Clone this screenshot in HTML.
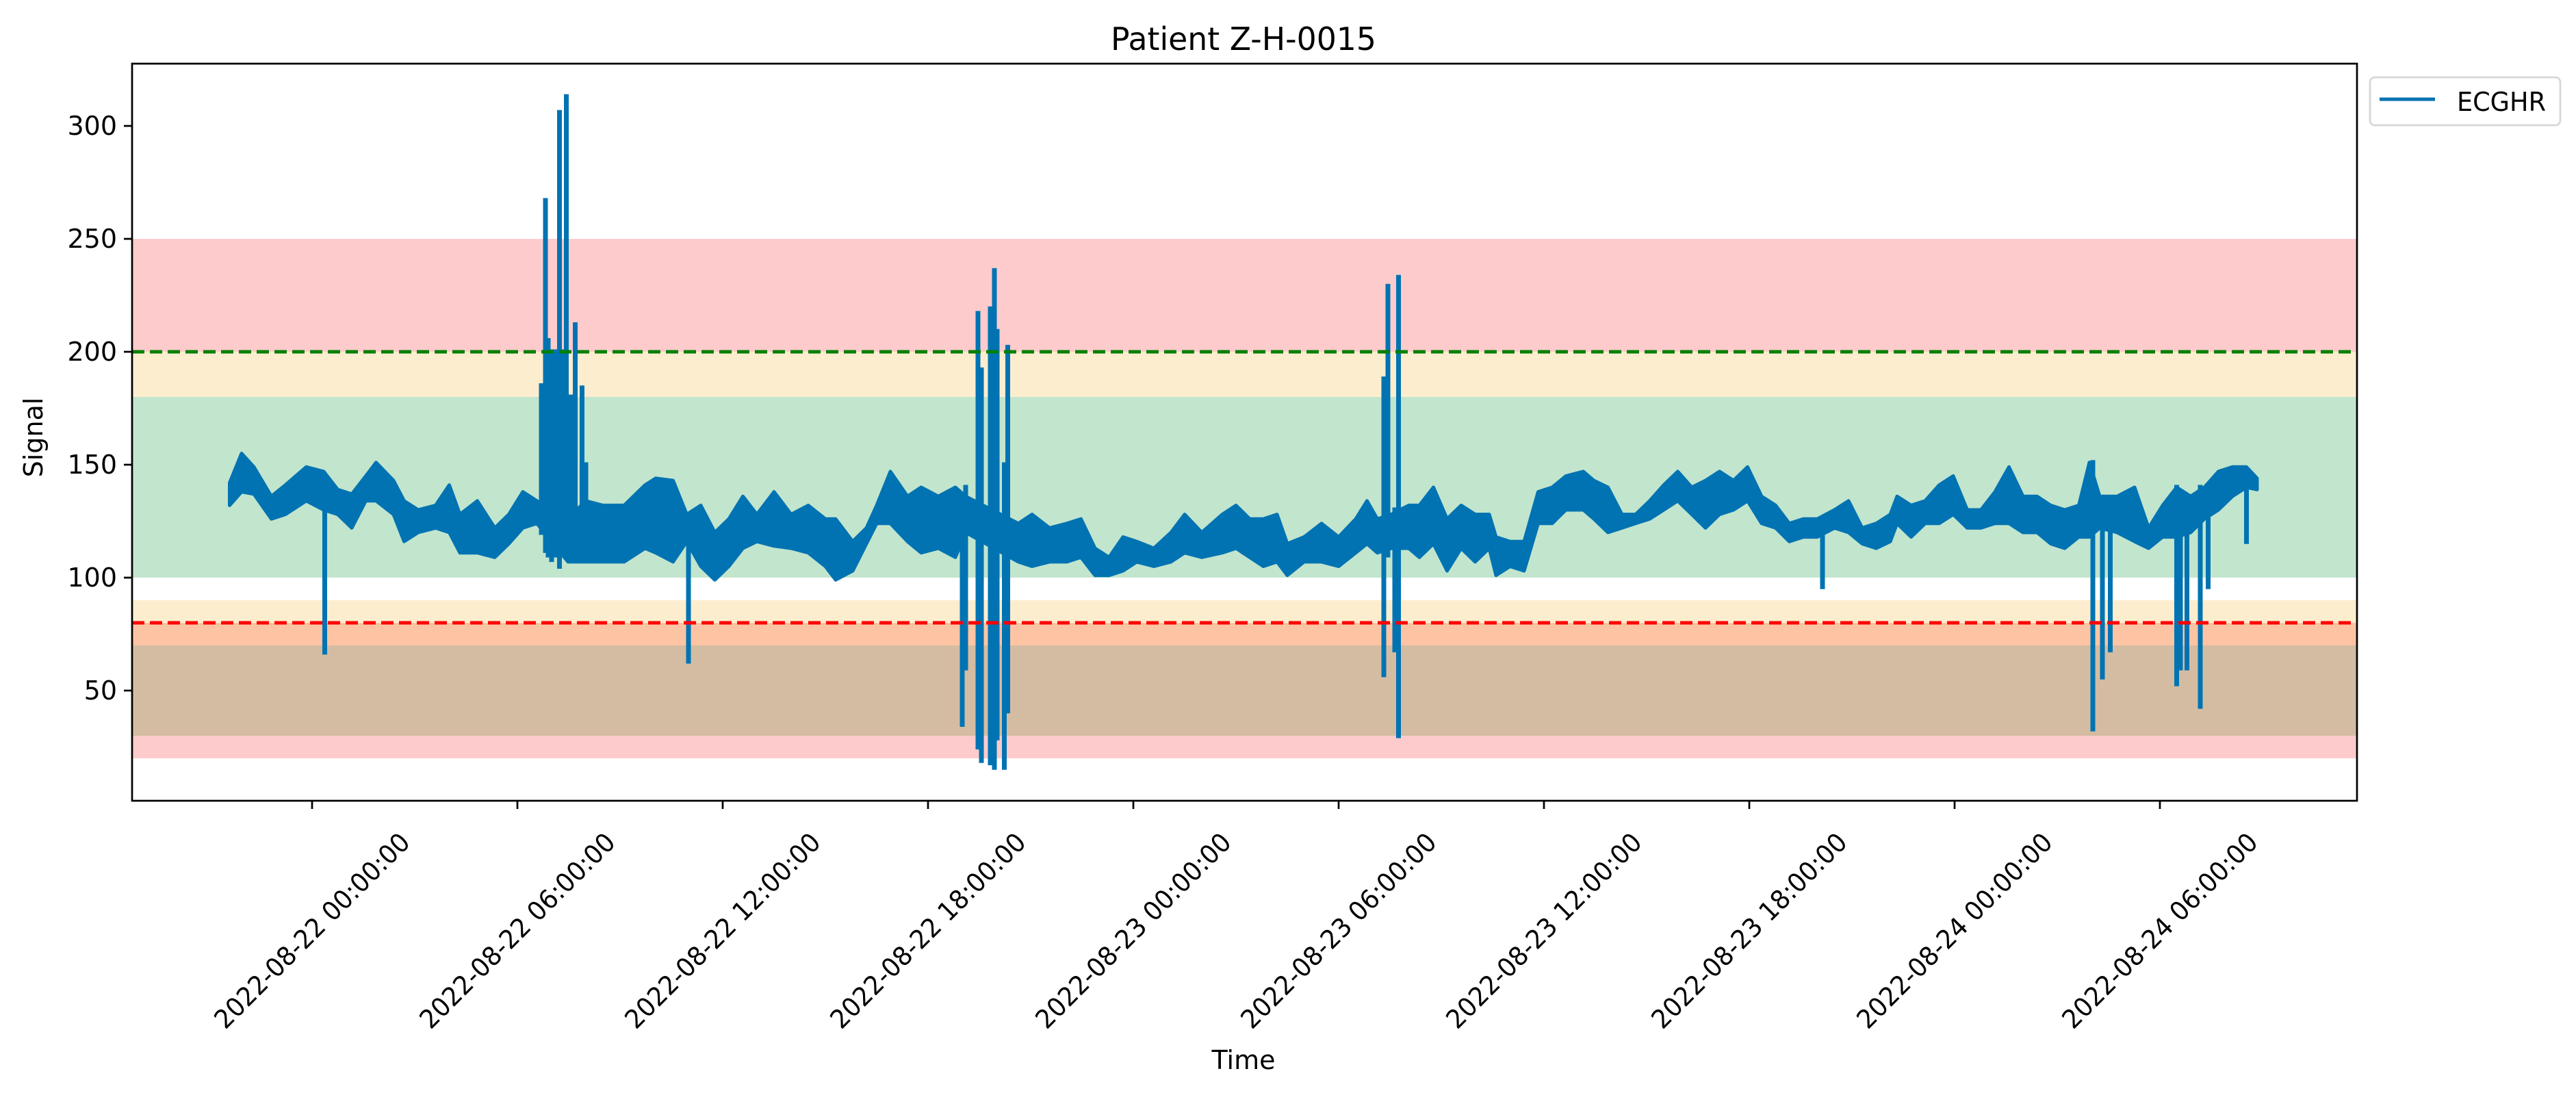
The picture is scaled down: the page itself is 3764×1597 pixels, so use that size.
<!DOCTYPE html>
<html><head><meta charset="utf-8"><style>
html,body{margin:0;padding:0;background:#fff;}
svg{display:block;font-family:"DejaVu Sans","Liberation Sans",sans-serif;}
</style></head><body>
<svg id="chart" width="3764" height="1597" viewBox="0 0 3764 1597">
<text x="1817" y="73" font-size="46" text-anchor="middle" textLength="388" lengthAdjust="spacingAndGlyphs">Patient Z-H-0015</text>
<g id="bands"></g>
<g id="series"></g>
<g id="refs"></g>
<rect x="193" y="93" width="3251" height="1077" fill="none" stroke="#000" stroke-width="2.7"/>
<g id="yaxis"></g>
<g id="xaxis"></g>
<text transform="translate(62,639) rotate(-90)" font-size="38" text-anchor="middle">Signal</text>
<text x="1817" y="1562" font-size="38" text-anchor="middle">Time</text>
<g>
<rect x="3463" y="113" width="278" height="70" rx="7" fill="#fff" stroke="#d6d6d6" stroke-width="2.7"/>
<line x1="3477" y1="145" x2="3558" y2="145" stroke="#0173b2" stroke-width="5"/>
<text x="3590" y="162" font-size="38" textLength="130" lengthAdjust="spacingAndGlyphs">ECGHR</text>
</g>
</svg>
<script>
const hours = [-2.41,-2.06,-1.70,-1.19,-0.78,-0.17,0.34,0.75,1.16,1.57,1.87,2.38,2.69,3.10,3.61,4.01,4.32,4.83,5.34,5.75,6.16,6.57,7.48,7.99,8.50,9.12,9.73,10.04,10.55,10.95,11.36,11.77,12.18,12.59,13.0,13.5,14.0,14.5,15.0,15.3,15.8,16.2,16.5,16.9,17.4,17.8,18.3,18.8,19.1,20.64,21.04,21.55,22.06,22.47,22.88,23.29,23.7,24.1,24.6,25.1,25.5,26.0,26.6,27.0,27.4,27.8,28.2,28.5,28.99,29.5,30.0,30.5,30.83,31.13,31.54,32.05,32.36,32.77,33.17,33.58,33.99,34.4,34.6,35.01,35.42,35.83,36.24,36.64,37.15,37.46,37.87,38.28,38.68,39.09,39.5,39.91,40.32,40.72,41.13,41.54,41.95,42.36,42.77,43.17,43.58,43.99,44.49,44.9,45.3,45.71,46.12,46.32,46.73,47.14,47.55,47.96,48.37,48.77,49.18,49.59,50.0,50.41,50.81,51.22,51.63,51.94,52.24,52.75,53.26,53.67,54.08,54.49,54.9,55.3,55.71,56.12,56.53,56.84];
const hiVals = [142,155,149,136,141,149,147,139,137,145,151,143,134,130,132,141,128,134,122,128,138,134,126,134,132,132,141,144,143,128,132,120,126,136,128,138,128,132,126,126,116,122,132,147,136,140,136,140,136,124,128,122,124,126,113,109,118,116,113,120,128,120,128,132,126,126,128,115,118,124,118,126,134,126,128,132,132,140,126,132,128,128,118,116,116,138,140,145,147,143,140,128,128,134,141,147,140,143,147,143,149,136,132,124,126,126,130,134,122,124,128,136,132,134,141,145,130,130,138,149,136,136,132,130,132,151,136,136,140,122,132,140,136,140,147,149,149,144];
const loVals = [132,138,137,126,128,134,130,128,122,134,134,128,116,120,122,120,111,111,109,115,122,124,107,107,107,107,113,111,107,116,105,99,105,113,116,114,113,111,105,99,103,115,124,124,116,111,113,109,120,107,105,107,107,109,101,101,103,107,105,107,111,109,111,113,109,105,107,101,107,107,105,111,115,111,113,113,109,115,103,113,107,113,101,105,103,124,124,130,130,126,120,122,124,126,130,134,128,122,128,130,134,124,122,116,118,118,122,120,115,113,116,124,118,124,124,128,122,122,124,124,120,120,115,113,118,118,122,120,116,113,118,118,120,126,130,136,140,139];
const spikeHours = [0.37,6.70,6.82,6.90,7.00,7.10,7.23,7.30,7.43,7.55,7.69,7.89,8.00,11.0,19.0,19.1,19.46,19.56,19.82,19.94,20.02,20.23,20.33,31.32,31.44,31.64,31.75,44.14,52.04,52.32,52.55,54.49,54.6,54.79,55.18,55.41,56.53];
const spikeLo = [67,120,112,110,108,110,105,110,115,108,110,115,110,63,35,60,25,19,18,16,29,16,41,57,110,68,30,96,33,56,68,53,60,60,43,96,116];
const spikeHi = [130,185,267,205,200,200,306,200,313,180,212,184,150,128,130,140,217,192,219,236,209,150,202,188,229,130,233,126,151,120,130,140,135,132,140,135,140];
const yTicks = [50,100,150,200,250,300];
const xTickHours = [0,6,12,18,24,30,36,42,48,54];
const xTickLabels = ["2022-08-22 00:00:00","2022-08-22 06:00:00","2022-08-22 12:00:00","2022-08-22 18:00:00","2022-08-23 00:00:00","2022-08-23 06:00:00","2022-08-23 12:00:00","2022-08-23 18:00:00","2022-08-24 00:00:00","2022-08-24 06:00:00"];
const bandLo = [200,180,100,80,70,30,20];
const bandHi = [250,200,180,90,80,70,30];
const bandColors = ["#fecbcc","#fdedcf","#c2e5cd","#fdedcf","#fdc4a4","#d4bca2","#fecbcc"];
const refValues = [200,80];
const refColors = ["#008000","#ff0000"];

const NS="http://www.w3.org/2000/svg";
const L=193,R=3444,T=93,B=1170;
function X(h){return 456+h*50;}
function Y(v){return 1009-(v-50)*3.3;}
function mk(tag,attrs,parent){const e=document.createElementNS(NS,tag);for(const k in attrs)e.setAttribute(k,attrs[k]);parent.appendChild(e);return e;}

const bands=document.getElementById('bands');
for(let i=0;i<bandLo.length;i++){
  const r=mk('rect',{x:L,y:Y(bandHi[i]),width:R-L,height:Y(bandLo[i])-Y(bandHi[i]),fill:bandColors[i]},bands);
  
  
}
const series=document.getElementById('series');
let pts=[];
for(let i=0;i<hours.length;i++)pts.push(X(hours[i]).toFixed(1)+','+Y(hiVals[i]).toFixed(1));
for(let i=hours.length-1;i>=0;i--)pts.push(X(hours[i]).toFixed(1)+','+Y(loVals[i]).toFixed(1));
const poly=mk('polygon',{points:pts.join(' '),fill:'#0173b2',stroke:'#0173b2','stroke-width':5,'stroke-linejoin':'round'},series);


for(let i=0;i<spikeHours.length;i++){
  const s=mk('line',{x1:X(spikeHours[i]),x2:X(spikeHours[i]),y1:Y(spikeLo[i]),y2:Y(spikeHi[i]),stroke:'#0173b2','stroke-width':7,'stroke-linecap':'square'},series);
  
  
}
const refs=document.getElementById('refs');
for(let i=0;i<refValues.length;i++){
  const l=mk('line',{x1:L,x2:R,y1:Y(refValues[i]),y2:Y(refValues[i]),stroke:refColors[i],'stroke-width':5,'stroke-dasharray':'18 8'},refs);
  
  
}
const ya=document.getElementById('yaxis');
for(const v of yTicks){
  const t=mk('line',{x1:L-12,x2:L,y1:Y(v),y2:Y(v),stroke:'#000','stroke-width':2.7},ya);
  
  
  const tx=mk('text',{x:L-22,y:Y(v)+13,'font-size':38,'text-anchor':'end'},ya);
  tx.textContent=v;
  
  
}
const xa=document.getElementById('xaxis');
for(let i=0;i<xTickHours.length;i++){
  const x=X(xTickHours[i]);
  const t=mk('line',{x1:x,x2:x,y1:B,y2:B+12,stroke:'#000','stroke-width':2.7},xa);
  
  
  const tx=mk('text',{transform:'translate('+x+',1360) rotate(-45)','font-size':38,'text-anchor':'middle','dominant-baseline':'central',textLength:385,lengthAdjust:'spacingAndGlyphs'},xa);
  tx.textContent=xTickLabels[i];
  
  
}
</script>
</body></html>
